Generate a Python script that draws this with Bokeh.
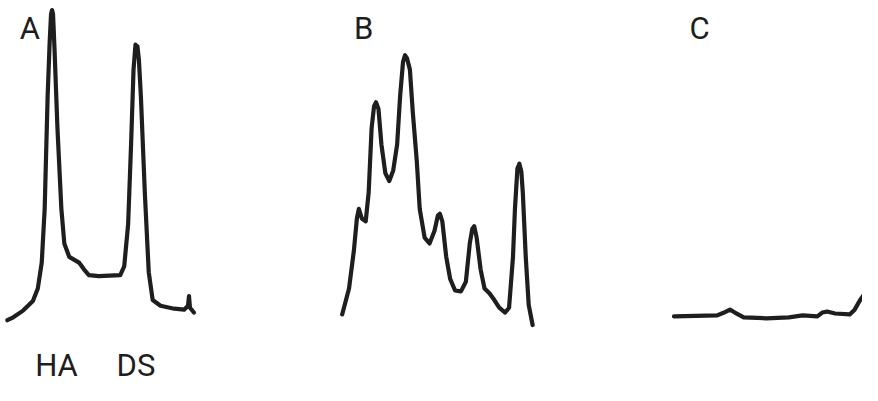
from bokeh.plotting import figure
from bokeh.models import Range1d
from bokeh.core.properties import value
from bokeh.embed import file_html
from bokeh.resources import INLINE

# Trace A (x position, signal height measured downward from top)
a_x = [7, 13, 23, 33, 38, 42, 45, 48, 50, 51.5, 52.5, 53.5, 55, 58, 62, 65, 70, 80, 85, 90, 100, 122, 126, 130, 133, 135.5, 137.5, 139.5, 141, 143, 147, 151, 155, 163, 177, 187, 191, 192, 193, 197]
a_y = [333, 330, 323, 313, 300, 273, 217, 100, 45, 14, 10, 14, 50, 133, 217, 253, 267, 273, 280, 286, 287, 286, 277, 233, 150, 72, 46, 48, 62, 100, 200, 283, 312, 318, 321, 322, 318, 308, 320, 325]

# Trace B
b_x = [348, 355, 360, 363, 365, 368, 372, 375, 378, 380.5, 382.5, 385, 388, 392, 396, 400, 404, 407, 410, 412, 414, 417, 420, 424, 427, 432, 437, 442, 445.5, 447.5, 450, 454, 458, 463, 469, 474, 478, 480.5, 482.5, 485, 489, 493, 498, 503, 508, 514, 518, 522, 524, 526.5, 528.5, 530.5, 532, 535, 538, 542]
b_y = [327, 300, 260, 227, 217, 227, 230, 200, 133, 110, 106, 113, 150, 180, 188, 177, 150, 100, 64, 57, 60, 72, 117, 167, 217, 247, 253, 240, 224, 222, 230, 267, 290, 302, 303, 293, 253, 238, 235, 247, 280, 300, 305, 312, 320, 325, 320, 267, 217, 175, 170, 178, 200, 267, 317, 338]

# Trace C
c_x = [686, 730, 737, 743, 748, 757, 780, 803, 817, 832, 837, 842, 850, 865, 870, 875, 879]
c_y = [329, 328, 325, 322, 325, 330, 331, 330, 328, 329, 325, 324, 326, 327, 322, 313, 307]

panel_labels = ["A", "B", "C"]
peak_labels = ["HA", "DS"]

H = 401
W = 878
p = figure(width=862, height=385, output_backend="svg", toolbar_location=None,
           x_range=Range1d(0, W), y_range=Range1d(0, H), min_border=0)
p.axis.visible = False
p.grid.visible = False
p.outline_line_color = None
p.background_fill_color = "white"
p.border_fill_color = "white"

col = "#1e1e1e"
for xs, ys in [(a_x, a_y), (b_x, b_y), (c_x, c_y)]:
    p.line(xs, [H - v for v in ys], line_color=col, line_width=4.2,
           line_join="round", line_cap="round")

font = value("Roboto")
p.text(x=[30, 370, 712], y=[H - 29] * 3, text=panel_labels, text_font=font,
       text_font_size="31px", text_align="center", text_baseline="middle",
       text_color=col)
p.text(x=[57, 138], y=[H - 380] * 2, text=peak_labels, text_font=font,
       text_font_size="31px", text_align="center", text_baseline="middle",
       text_color=col)

open("out.html", "w").write(file_html(p, INLINE))
